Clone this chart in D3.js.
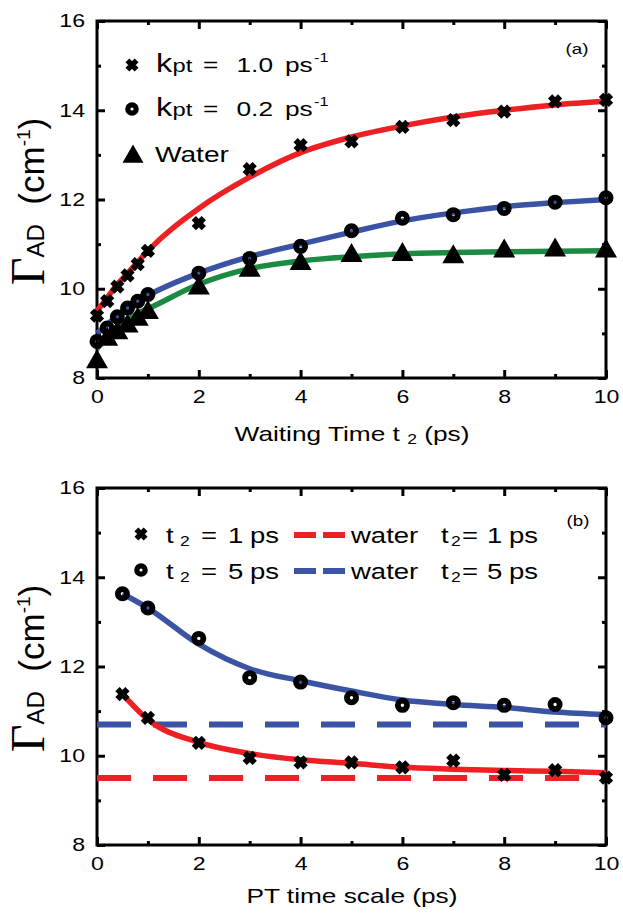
<!DOCTYPE html>
<html>
<head>
<meta charset="utf-8">
<script src="https://cdn.jsdelivr.net/npm/d3@7"></script>
<style>
  body { margin: 0; background: #fff; }
  svg text { font-family: "Liberation Sans", Arial, sans-serif; fill: #000; }
</style>
</head>
<body>
<div id="chart"></div>
<script>
// panel (a): waiting time t2 (ps)
var t2 = [0, 0.2, 0.4, 0.6, 0.8, 1, 2, 3, 4, 5, 6, 7, 8, 9, 10];
var kpt10 = [9.4, 9.72, 10.05, 10.3, 10.55, 10.85, 11.47, 12.68, 13.22, 13.3, 13.63, 13.78, 13.97, 14.2, 14.23];
var kpt02 = [8.82, 9.12, 9.37, 9.57, 9.72, 9.87, 10.35, 10.68, 10.95, 11.3, 11.58, 11.66, 11.8, 11.94, 12.04];
var water = [8.4, 8.9, 9.05, 9.2, 9.35, 9.5, 10.05, 10.45, 10.6, 10.78, 10.8, 10.75, 10.88, 10.9, 10.88];
var fit10 = [9.5, 9.8, 10.1, 10.35, 10.6, 10.85, 11.8, 12.5, 13.05, 13.4, 13.65, 13.85, 14.0, 14.12, 14.2];
var fit02 = [9.0, 9.2, 9.4, 9.58, 9.72, 9.85, 10.35, 10.72, 11.0, 11.27, 11.52, 11.7, 11.84, 11.93, 12.0];
var fitW = [8.65, 8.95, 9.15, 9.3, 9.45, 9.55, 10.1, 10.45, 10.62, 10.72, 10.78, 10.81, 10.83, 10.84, 10.85];

// panel (b): PT time scale (ps)
var pt = [0.5, 1, 2, 3, 4, 5, 6, 7, 8, 9, 10];
var t1ps = [11.38, 10.85, 10.29, 9.95, 9.85, 9.85, 9.74, 9.89, 9.57, 9.68, 9.51];
var t5ps = [13.63, 13.31, 12.63, 11.75, 11.65, 11.3, 11.13, 11.19, 11.13, 11.15, 10.85];
var fit1ps = [11.38, 10.81, 10.3, 10.05, 9.91, 9.83, 9.74, 9.7, 9.67, 9.65, 9.62];
var fit5ps = [13.63, 13.31, 12.5, 11.95, 11.68, 11.45, 11.25, 11.15, 11.08, 10.98, 10.92];
var water1ps = 9.5, water5ps = 10.7;

var xMajor = [0, 2, 4, 6, 8, 10], xMinor = [1, 3, 5, 7, 9];
var yMajor = [8, 10, 12, 14, 16], yMinor = [9, 11, 13, 15];

var RED = '#ed2024', BLUE = '#3a53a4', GREEN = '#1b8a42';
var SX = 1.25;  // the original lettering is wide, stretch it a bit

var W = 623, H = 913;
var svg = d3.select('#chart').append('svg').attr('width', W).attr('height', H);

var x = d3.scaleLinear().domain([0, 10]).range([97, 606]);

// stretched text at absolute position
function stext(X, Y, size, str, anchor) {
    return svg.append('text')
        .attr('transform', 'translate(' + X + ',' + Y + ') scale(' + SX + ',1)')
        .attr('text-anchor', anchor || 'start')
        .style('font-size', size + 'px')
        .text(str);
}

function cross(g, s) {
    s = s || 5;
    g.append('path')
        .attr('d', 'M' + (-s) + ',' + (-s) + 'L' + s + ',' + s + 'M' + (-s) + ',' + s + 'L' + s + ',' + (-s))
        .attr('stroke', '#000').attr('stroke-width', s * 1.2).attr('fill', 'none');
}
function ring(g, r, w) {
    g.append('circle').attr('r', r || 4.6)
        .attr('fill', 'none').attr('stroke', '#000').attr('stroke-width', w || 5.8);
}
function tri(g, s) {
    s = s || 11;
    g.append('path')
        .attr('d', 'M0,' + (-s) + 'L' + s + ',' + (s * 0.73) + 'L' + (-s) + ',' + (s * 0.73) + 'Z')
        .attr('fill', '#000');
}

function frame(y) {
    var g = svg.append('g');
    var y0 = y.range()[0], y1 = y.range()[1];
    // ticks, all pointing inward
    function ax(gen, vals, size, tr, lab) {
        var a = g.append('g').attr('transform', tr)
            .call(gen.tickValues(vals).tickSize(-size).tickSizeOuter(0).tickPadding(12)
                .tickFormat(lab ? d3.format('d') : ''));
        a.select('.domain').remove();
        a.selectAll('line').attr('stroke-width', 3);
        a.selectAll('text').style('font-size', '18.5px')
            .style('font-family', '"Liberation Sans", Arial, sans-serif');
        return a;
    }
    var b = ax(d3.axisBottom(x), xMajor, 8, 'translate(0,' + y0 + ')', true);
    b.selectAll('.tick text').attr('transform', 'scale(' + SX + ',1)');
    ax(d3.axisBottom(x), xMinor, 4, 'translate(0,' + y0 + ')', false);
    ax(d3.axisTop(x), xMajor, 8, 'translate(0,' + y1 + ')', false);
    ax(d3.axisTop(x), xMinor, 4, 'translate(0,' + y1 + ')', false);
    var l = ax(d3.axisLeft(y), yMajor, 8, 'translate(' + x(0) + ',0)', true);
    l.selectAll('text').attr('x', 0).attr('transform', 'translate(-12,0) scale(' + SX + ',1)');
    ax(d3.axisLeft(y), yMinor, 4, 'translate(' + x(0) + ',0)', false);
    ax(d3.axisRight(y), yMajor, 8, 'translate(' + x(10) + ',0)', false);
    ax(d3.axisRight(y), yMinor, 4, 'translate(' + x(10) + ',0)', false);
    g.append('rect')
        .attr('x', x(0)).attr('y', y1).attr('width', x(10) - x(0)).attr('height', y0 - y1)
        .attr('fill', 'none').attr('stroke', '#000').attr('stroke-width', 3);

    // y title: Γ_AD (cm-1)
    var cy = (y0 + y1) / 2 + 2;
    var t = svg.append('text').attr('transform', 'translate(44,' + cy + ') rotate(-90)')
        .attr('text-anchor', 'middle').attr('xml:space', 'preserve');
    t.append('tspan').text('Γ').style('font-family', '"Liberation Serif", "Times New Roman", serif').style('font-size', '48px');
    t.append('tspan').text('AD').style('font-size', '24px');
    t.append('tspan').text('  (cm').style('font-size', '35px');
    t.append('tspan').text('-1').style('font-size', '19px').attr('dy', -14);
    t.append('tspan').text(')').style('font-size', '35px').attr('dy', 14);
    return g;
}

function series(g, xs, ys, color, sx, sy) {
    var line = d3.line().x(function(d, i) { return sx(xs[i]); }).y(function(d) { return sy(d); })
        .curve(d3.curveMonotoneX);
    g.append('path').datum(ys).attr('d', line)
        .attr('fill', 'none').attr('stroke', color).attr('stroke-width', 5.5);
}
function markers(g, xs, ys, sx, sy, fn) {
    g.selectAll(null).data(ys).enter().append('g')
        .attr('transform', function(d, i) { return 'translate(' + sx(xs[i]) + ',' + sy(d) + ')'; })
        .each(function() { fn(d3.select(this)); });
}

// PANEL (a)
var ya = d3.scaleLinear().domain([8, 16]).range([378, 21]);
frame(ya);
var pa = svg.append('g');
series(pa, t2, fitW, GREEN, x, ya);
series(pa, t2, fit02, BLUE, x, ya);
series(pa, t2, fit10, RED, x, ya);
markers(pa, t2, water, x, ya, function(g) { tri(g); });
markers(pa, t2, kpt02, x, ya, function(g) { ring(g); });
markers(pa, t2, kpt10, x, ya, function(g) { cross(g); });

stext(577, 54, 15, '(a)', 'middle');

// legend (a)
[['1.0', 72], ['0.2', 116]].forEach(function(r, i) {
    var m = svg.append('g').attr('transform', 'translate(132,' + (r[1] - 7) + ')');
    if (i == 0) cross(m, 4.6); else ring(m, 4.2, 5.2);
    stext(156, r[1], 26, 'k');
    stext(172.5, r[1], 19, 'pt');
    stext(203, r[1], 21, '=');
    stext(236.5, r[1], 21, r[0]);
    stext(285, r[1], 21, 'ps');
    stext(314, r[1] - 10, 13, '-1');
});
var mt = svg.append('g').attr('transform', 'translate(133,155)');
tri(mt, 10.5);
stext(155, 162, 22.5, 'Water');

var xt = stext(352, 441, 21, 'Waiting Time t ', 'middle');
xt.append('tspan').attr('dy', 3).style('font-size', '14px').text('2');
xt.append('tspan').attr('dy', -3).text(' (ps)');

// PANEL (b)
var yb = d3.scaleLinear().domain([8, 16]).range([845, 488]);
frame(yb);
var pb = svg.append('g');
[[water1ps, RED], [water5ps, BLUE]].forEach(function(w) {
    pb.append('line').attr('x1', x(0)).attr('x2', x(10)).attr('y1', yb(w[0])).attr('y2', yb(w[0]))
        .attr('stroke', w[1]).attr('stroke-width', 6).attr('stroke-dasharray', '34,22');
});
series(pb, pt, fit5ps, BLUE, x, yb);
series(pb, pt, fit1ps, RED, x, yb);
markers(pb, pt, t5ps, x, yb, function(g) { ring(g); });
markers(pb, pt, t1ps, x, yb, function(g) { cross(g); });

stext(578, 526, 15, '(b)', 'middle');

// legend (b)
[['1', 543, RED], ['5', 579, BLUE]].forEach(function(r, i) {
    var m = svg.append('g').attr('transform', 'translate(141,' + (r[1] - 9) + ')');
    if (i == 0) cross(m, 4.6); else ring(m, 4.2, 5.2);
    stext(166, r[1], 22, 't');
    stext(180, r[1] + 3, 14, '2');
    stext(201, r[1], 22, '=');
    stext(228, r[1], 22, r[0]);
    stext(250, r[1], 22, 'ps');
    svg.append('line').attr('x1', 294).attr('x2', 345).attr('y1', r[1] - 8).attr('y2', r[1] - 8)
        .attr('stroke', r[2]).attr('stroke-width', 6).attr('stroke-dasharray', '22,7');
    stext(351, r[1], 22, 'water');
    stext(441, r[1], 22, 't');
    stext(451, r[1] + 3, 14, '2');
    stext(462, r[1], 22, '=');
    stext(487, r[1], 22, r[0]);
    stext(509, r[1], 22, 'ps');
});

stext(352, 903, 21, 'PT time scale (ps)', 'middle');
</script>
</body>
</html>
